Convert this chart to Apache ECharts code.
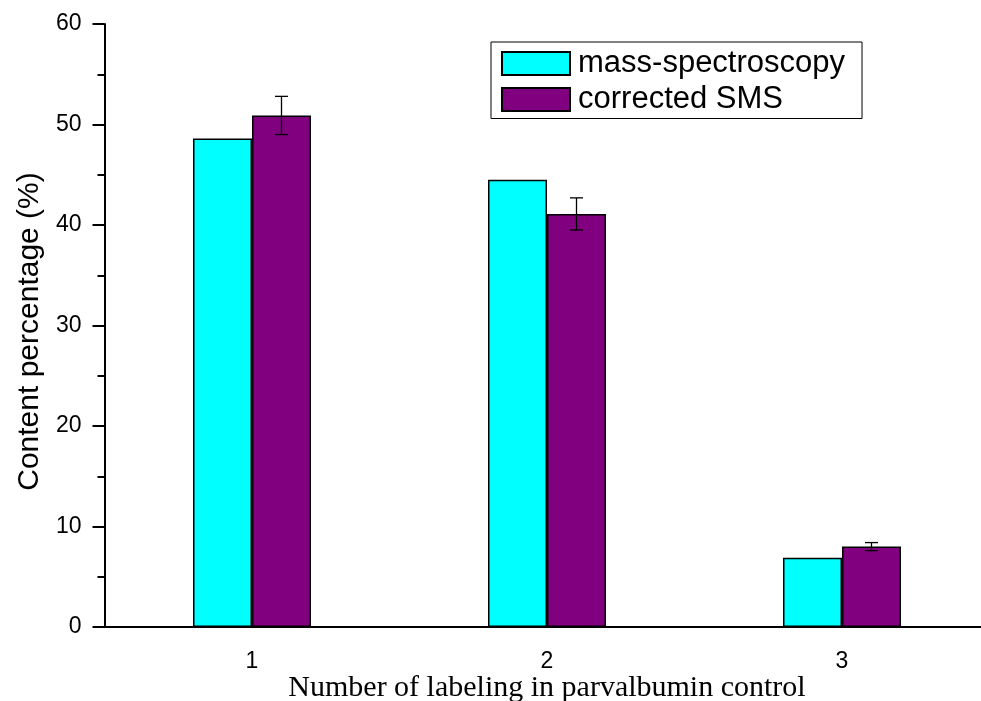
<!DOCTYPE html>
<html>
<head>
<meta charset="utf-8">
<script src="https://cdn.jsdelivr.net/npm/echarts@6/dist/echarts.min.js"></script>
<style>
  html, body { margin: 0; padding: 0; background: #fff; overflow: hidden; }
  #chart { width: 981px; height: 701px; }
</style>
</head>
<body>
<div id="chart"></div>
<script>
// Labeling counts (categories) and content percentages per method
const categories = ['1', '2', '3'];
const massSpec = [48.6, 44.5, 6.9];
const correctedSMS = [50.9, 41.1, 8.0];
const correctedErr = [1.9, 1.6, 0.4];
const yTicks = { min: 0, max: 60, step: 10 };

const SANS = 'Liberation Sans, Arial, sans-serif';
const SERIF = 'Liberation Serif, Times New Roman, serif';
const BAR_FRACTION = 0.2; // each bar is 20% of a category band

const chart = echarts.init(document.getElementById('chart'), null, { renderer: 'canvas' });

// Error bars: vertical whisker with caps, centred on the second bar of each group
function renderErrorBar(params, api) {
  const idx = api.value(0);
  const val = api.value(1);
  const err = api.value(2);
  const band = api.size([1, 0])[0];
  const dx = band * BAR_FRACTION / 2;
  const top = api.coord([idx, val + err]);
  const bot = api.coord([idx, val - err]);
  const x = top[0] + dx;
  const cap = 6.5;
  const style = { stroke: '#000', lineWidth: 1.3 };
  return {
    type: 'group',
    children: [
      { type: 'line', shape: { x1: x, y1: top[1], x2: x, y2: bot[1] }, style },
      { type: 'line', shape: { x1: x - cap, y1: top[1], x2: x + cap, y2: top[1] }, style },
      { type: 'line', shape: { x1: x - cap, y1: bot[1], x2: x + cap, y2: bot[1] }, style }
    ]
  };
}

const option = {
  animation: false,
  backgroundColor: '#fff',
  grid: {
    left: 104.5, right: -8.5, top: 24, bottom: 74,
    containLabel: false,
    outerBoundsMode: 'none'
  },
  legend: {
    orient: 'vertical',
    left: 491,
    top: 42,
    icon: 'rect',
    itemWidth: 68,
    itemHeight: 23,
    itemGap: 5,
    padding: [6, 17, 3.5, 10],
    borderColor: '#000',
    borderWidth: 1,
    textStyle: { fontFamily: SANS, fontSize: 31, color: '#000', padding: [0, 0, 0, 3] },
    data: ['mass-spectroscopy', 'corrected SMS']
  },
  xAxis: [
    {
      type: 'category',
      data: categories,
      boundaryGap: true,
      name: 'Number of labeling in parvalbumin control',
      nameLocation: 'middle',
      nameGap: 46,
      nameMoveOverlap: false,
      nameTextStyle: { fontFamily: SERIF, fontSize: 30, color: '#000' },
      axisLine: { lineStyle: { color: '#000', width: 2 } },
      axisTick: { alignWithLabel: true, length: 11, lineStyle: { color: '#000', width: 2 } },
      axisLabel: { margin: 23, fontFamily: SANS, fontSize: 23, color: '#000' },
      splitLine: { show: false }
    },
    {
      // boundary ticks between categories
      type: 'category',
      data: categories,
      position: 'bottom',
      boundaryGap: true,
      axisLine: { show: false },
      axisTick: { alignWithLabel: false, length: 6, lineStyle: { color: '#000', width: 2 } },
      axisLabel: { show: false },
      splitLine: { show: false }
    }
  ],
  yAxis: {
    type: 'value',
    min: yTicks.min,
    max: yTicks.max,
    interval: yTicks.step,
    name: 'Content percentage (%)',
    nameLocation: 'middle',
    nameGap: 59,
    nameTextStyle: { fontFamily: SANS, fontSize: 30, color: '#000', padding: [0, 12, 0, 0] },
    axisLine: { show: true, lineStyle: { color: '#000', width: 2 } },
    axisTick: { show: true, length: 12, lineStyle: { color: '#000', width: 2 } },
    minorTick: { show: true, splitNumber: 2, length: 7, lineStyle: { color: '#000', width: 2 } },
    axisLabel: { margin: 23, fontFamily: SANS, fontSize: 23, color: '#000' },
    splitLine: { show: false }
  },
  series: [
    {
      name: 'mass-spectroscopy',
      type: 'bar',
      data: massSpec,
      barWidth: (BAR_FRACTION * 100) + '%',
      barGap: '0%',
      itemStyle: { color: '#00FFFF', borderColor: '#000', borderWidth: 1.5 }
    },
    {
      name: 'corrected SMS',
      type: 'bar',
      data: correctedSMS,
      barWidth: (BAR_FRACTION * 100) + '%',
      barGap: '0%',
      itemStyle: { color: '#800080', borderColor: '#000', borderWidth: 1.5 }
    },
    {
      name: 'error',
      type: 'custom',
      renderItem: renderErrorBar,
      data: correctedSMS.map((v, i) => [i, v, correctedErr[i]]),
      encode: { x: 0, y: 1 },
      z: 5,
      silent: true
    }
  ]
};

chart.setOption(option);
</script>
</body>
</html>
